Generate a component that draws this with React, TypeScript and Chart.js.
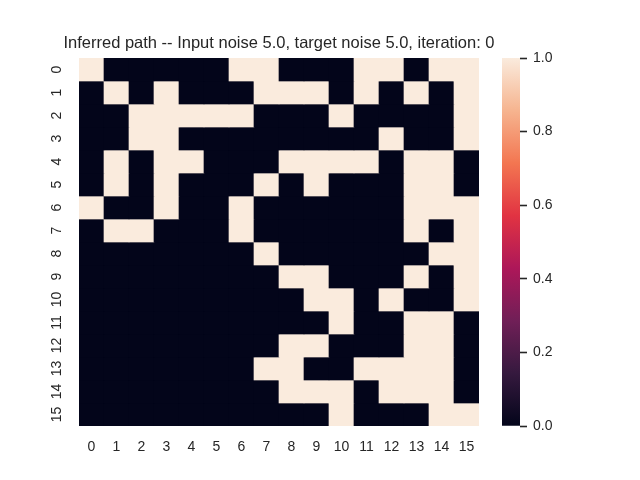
import React, { useEffect, useRef } from "react";
import { Chart, registerables } from "chart.js";

Chart.register(...registerables);

const titleText = "Inferred path -- Input noise 5.0, target noise 5.0, iteration: 0";
const xLabels = ["0", "1", "2", "3", "4", "5", "6", "7", "8", "9", "10", "11", "12", "13", "14", "15"];
const yLabels = ["0", "1", "2", "3", "4", "5", "6", "7", "8", "9", "10", "11", "12", "13", "14", "15"];

const row0 = [1, 0, 0, 0, 0, 0, 1, 1, 0, 0, 0, 1, 1, 0, 1, 1];
const row1 = [0, 1, 0, 1, 0, 0, 0, 1, 1, 1, 0, 1, 0, 1, 0, 1];
const row2 = [0, 0, 1, 1, 1, 1, 1, 0, 0, 0, 1, 0, 0, 0, 0, 1];
const row3 = [0, 0, 1, 1, 0, 0, 0, 0, 0, 0, 0, 0, 1, 0, 0, 1];
const row4 = [0, 1, 0, 1, 1, 0, 0, 0, 1, 1, 1, 1, 0, 1, 1, 0];
const row5 = [0, 1, 0, 1, 0, 0, 0, 1, 0, 1, 0, 0, 0, 1, 1, 0];
const row6 = [1, 0, 0, 1, 0, 0, 1, 0, 0, 0, 0, 0, 0, 1, 1, 1];
const row7 = [0, 1, 1, 0, 0, 0, 1, 0, 0, 0, 0, 0, 0, 1, 0, 1];
const row8 = [0, 0, 0, 0, 0, 0, 0, 1, 0, 0, 0, 0, 0, 0, 1, 1];
const row9 = [0, 0, 0, 0, 0, 0, 0, 0, 1, 1, 0, 0, 0, 1, 0, 1];
const row10 = [0, 0, 0, 0, 0, 0, 0, 0, 0, 1, 1, 0, 1, 0, 0, 1];
const row11 = [0, 0, 0, 0, 0, 0, 0, 0, 0, 0, 1, 0, 0, 1, 1, 0];
const row12 = [0, 0, 0, 0, 0, 0, 0, 0, 1, 1, 0, 0, 0, 1, 1, 0];
const row13 = [0, 0, 0, 0, 0, 0, 0, 1, 1, 0, 0, 1, 1, 1, 1, 0];
const row14 = [0, 0, 0, 0, 0, 0, 0, 0, 1, 1, 1, 0, 1, 1, 1, 0];
const row15 = [0, 0, 0, 0, 0, 0, 0, 0, 0, 0, 1, 0, 0, 0, 1, 1];
const cellRows = [row0, row1, row2, row3, row4, row5, row6, row7, row8, row9, row10, row11, row12, row13, row14, row15];

const colorbarTicks = [0, 0.2, 0.4, 0.6, 0.8, 1.0];
const colorMin = 0;
const colorMax = 1;

const rocketStops: [number, string][] = [
  [0, "#03051A"],
  [1 / 7, "#35193e"],
  [2 / 7, "#701f57"],
  [3 / 7, "#ad1759"],
  [4 / 7, "#e13342"],
  [5 / 7, "#f37651"],
  [6 / 7, "#f6b48f"],
  [1, "#FAEBDD"],
];

function hexToRgb(h: string): number[] {
  const s = h.replace("#", "");
  return [0, 2, 4].map((i) => parseInt(s.slice(i, i + 2), 16));
}

function rocket(v: number): string {
  const t = Math.max(0, Math.min(1, (v - colorMin) / (colorMax - colorMin)));
  for (let i = 0; i < rocketStops.length - 1; i++) {
    const [p0, c0] = rocketStops[i];
    const [p1, c1] = rocketStops[i + 1];
    if (t <= p1) {
      const f = (t - p0) / (p1 - p0);
      const a = hexToRgb(c0);
      const b = hexToRgb(c1);
      const m = a.map((x, k) => Math.round(x + (b[k] - x) * f));
      return `rgb(${m[0]},${m[1]},${m[2]})`;
    }
  }
  return rocketStops[rocketStops.length - 1][1];
}

const FONT = "'Liberation Sans', Arial, 'DejaVu Sans', sans-serif";
const TEXT = "#262626";

export default function App() {
  const mainRef = useRef<HTMLCanvasElement | null>(null);
  const cbRef = useRef<HTMLCanvasElement | null>(null);

  useEffect(() => {
    const main = new Chart(mainRef.current as HTMLCanvasElement, {
      type: "bar",
      data: {
        labels: xLabels,
        datasets: yLabels.map((_, r) => ({
          label: yLabels[r],
          data: xLabels.map(() => [r, r + 1]) as any,
          backgroundColor: cellRows[r].map(rocket),
          borderWidth: 0,
          grouped: false,
          barPercentage: 1,
          categoryPercentage: 1,
        })),
      },
      options: {
        animation: false,
        responsive: false,
        devicePixelRatio: 1,
        events: [],
        layout: { padding: { left: 0, right: 82, top: 0, bottom: 0 } },
        plugins: {
          legend: { display: false },
          tooltip: { enabled: false },
          title: {
            display: true,
            text: titleText,
            color: TEXT,
            font: { family: FONT, size: 16.5, weight: "normal", lineHeight: 1.2 },
            padding: { top: 33.4, bottom: 4.8 },
          },
        },
        scales: {
          x: {
            type: "category",
            grid: { display: false, drawTicks: false },
            border: { display: false },
            ticks: { color: TEXT, font: { family: FONT, size: 14 }, padding: 12.5, maxRotation: 0, minRotation: 0 },
            afterFit: (s: any) => {
              s.height = 54;
            },
          },
          y: {
            type: "linear",
            min: 0,
            max: yLabels.length,
            reverse: true,
            grid: { display: false, drawTicks: false },
            border: { display: false },
            afterBuildTicks: (s: any) => {
              s.ticks = yLabels.map((_, i) => ({ value: i + 0.5 }));
            },
            ticks: {
              color: TEXT,
              font: { family: FONT, size: 14 },
              padding: 14,
              minRotation: 90,
              maxRotation: 90,
              crossAlign: "center",
              autoSkip: false,
              callback: (v: any) => yLabels[Math.floor(Number(v))],
            },
            afterFit: (s: any) => {
              s.width = 79;
            },
          },
          spacer: {
            type: "linear",
            position: "right",
            display: true,
            grid: { display: false, drawTicks: false },
            border: { display: false },
            ticks: { display: false },
            afterFit: (s: any) => {
              s.width = 79;
            },
          },
        },
      } as any,
    });

    const cb = new Chart(cbRef.current as HTMLCanvasElement, {
      type: "bar",
      data: {
        labels: ["cb"],
        datasets: [
          {
            data: [[colorMin, colorMax]] as any,
            backgroundColor: (ctx: any) => {
              const area = ctx.chart.chartArea;
              if (!area) return rocket(0.5);
              const g = ctx.chart.ctx.createLinearGradient(0, area.bottom, 0, area.top);
              rocketStops.forEach(([p, c]) => g.addColorStop(p, c));
              return g;
            },
            borderWidth: 0,
            barPercentage: 1,
            categoryPercentage: 1,
          },
        ],
      },
      options: {
        animation: false,
        responsive: false,
        devicePixelRatio: 1,
        events: [],
        layout: { padding: { left: 502, right: 70, top: 58, bottom: 54 } },
        plugins: { legend: { display: false }, tooltip: { enabled: false } },
        scales: {
          x: { display: false },
          y: {
            type: "linear",
            position: "right",
            min: colorMin,
            max: colorMax,
            grid: {
              display: true,
              drawOnChartArea: false,
              drawTicks: true,
              tickLength: 7,
              tickWidth: 1.6,
              tickColor: TEXT,
            },
            border: { display: false },
            afterBuildTicks: (s: any) => {
              s.ticks = colorbarTicks.map((v) => ({ value: v }));
            },
            ticks: {
              color: TEXT,
              font: { family: FONT, size: 14 },
              padding: 6,
              callback: (v: any) => Number(v).toFixed(1),
            },
            afterFit: (s: any) => {
              s.width = 50;
            },
          },
        },
      } as any,
    });

    return () => {
      main.destroy();
      cb.destroy();
    };
  }, []);

  return (
    <div style={{ position: "absolute", left: 0, top: 0, width: 640, height: 480, background: "#ffffff" }}>
      <canvas ref={mainRef} width={640} height={480} style={{ position: "absolute", left: 0, top: 0, width: 640, height: 480 }} />
      <canvas ref={cbRef} width={640} height={480} style={{ position: "absolute", left: 0, top: 0, width: 640, height: 480 }} />
    </div>
  );
}
